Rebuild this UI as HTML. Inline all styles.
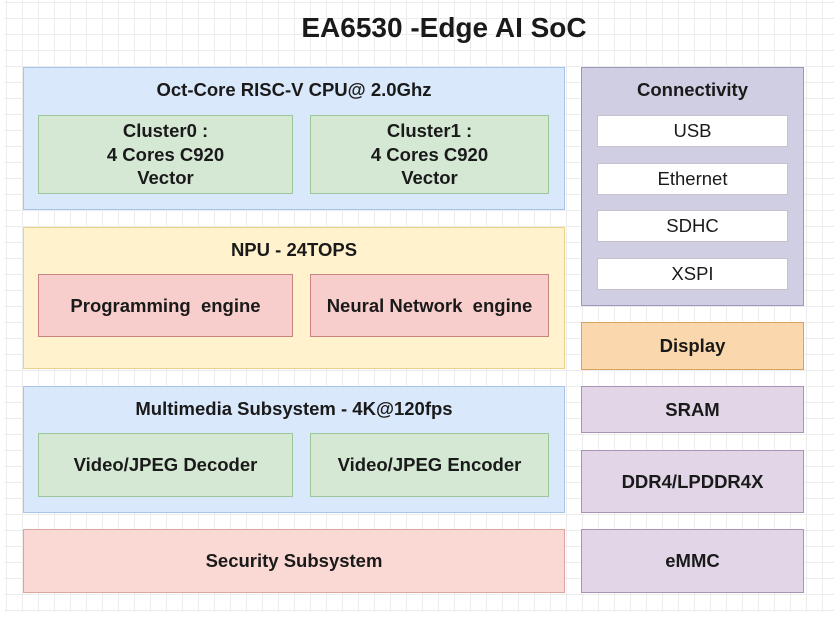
<!DOCTYPE html>
<html><head><style>
body{margin:0;width:840px;height:629px;background:#fff;position:relative;overflow:hidden;font-family:"Liberation Sans",Arial,sans-serif;font-weight:bold;color:#1a1a1a}
.grid{position:absolute;left:4px;top:0;width:830px;height:612px;background-image:linear-gradient(#ececec 1px,transparent 1px),linear-gradient(90deg,#ececec 1px,transparent 1px);background-size:16px 16px;background-position:2px 2px}
.b{position:absolute;box-sizing:border-box;display:flex;align-items:center;justify-content:center;text-align:center;font-size:18.5px;line-height:23.5px}
.t{position:absolute;left:0;right:0;text-align:center;font-size:18.5px}
.blue{background:#dae8fc;border:1.5px solid #a9c4eb}
.green{background:#d5e8d4;border:1.5px solid #9cc59a}
.yel{background:#fff2cc;border:1.5px solid #e8d28a}
.red{background:#f8cecc;border:1.5px solid #c98482}
.pur{background:#e1d5e7;border:1.5px solid #a994b6}
.org{background:#fad7ac;border:1.5px solid #d7a55f}
.wh{background:#fff;border:1px solid #c8c0cf;font-weight:normal}
</style></head><body>
<div class="grid"></div>
<div style="position:absolute;left:0;width:888px;top:12px;text-align:center;font-size:28px">EA6530 -Edge AI SoC</div>

<div class="b blue" style="left:23px;top:67px;width:542px;height:143px"><div class="t" style="top:10px">Oct-Core RISC-V CPU@ 2.0Ghz</div></div>
<div class="b green" style="left:38px;top:115px;width:255px;height:79px">Cluster0 :<br>4 Cores C920<br>Vector</div>
<div class="b green" style="left:310px;top:115px;width:239px;height:79px">Cluster1 :<br>4 Cores C920<br>Vector</div>

<div class="b yel" style="left:23px;top:227px;width:542px;height:142px"><div class="t" style="top:10px">NPU - 24TOPS</div></div>
<div class="b red" style="left:38px;top:274px;width:255px;height:63px">Programming&nbsp; engine</div>
<div class="b red" style="left:310px;top:274px;width:239px;height:63px">Neural Network&nbsp; engine</div>

<div class="b blue" style="left:23px;top:386px;width:542px;height:127px"><div class="t" style="top:10px">Multimedia Subsystem - 4K@120fps</div></div>
<div class="b green" style="left:38px;top:433px;width:255px;height:64px">Video/JPEG Decoder</div>
<div class="b green" style="left:310px;top:433px;width:239px;height:64px">Video/JPEG Encoder</div>

<div class="b red" style="left:23px;top:529px;width:542px;height:64px;background:#fad9d5;border-color:#dca5a2">Security Subsystem</div>

<div class="b pur" style="left:581px;top:67px;width:223px;height:239px;background:#d0cee2;border-color:#9c98b8"><div class="t" style="top:10px">Connectivity</div></div>
<div class="b wh" style="left:597px;top:115px;width:191px;height:32px">USB</div>
<div class="b wh" style="left:597px;top:163px;width:191px;height:32px">Ethernet</div>
<div class="b wh" style="left:597px;top:210px;width:191px;height:32px">SDHC</div>
<div class="b wh" style="left:597px;top:258px;width:191px;height:32px">XSPI</div>

<div class="b org" style="left:581px;top:322px;width:223px;height:48px">Display</div>
<div class="b pur" style="left:581px;top:386px;width:223px;height:47px">SRAM</div>
<div class="b pur" style="left:581px;top:450px;width:223px;height:63px">DDR4/LPDDR4X</div>
<div class="b pur" style="left:581px;top:529px;width:223px;height:64px">eMMC</div>
</body></html>
